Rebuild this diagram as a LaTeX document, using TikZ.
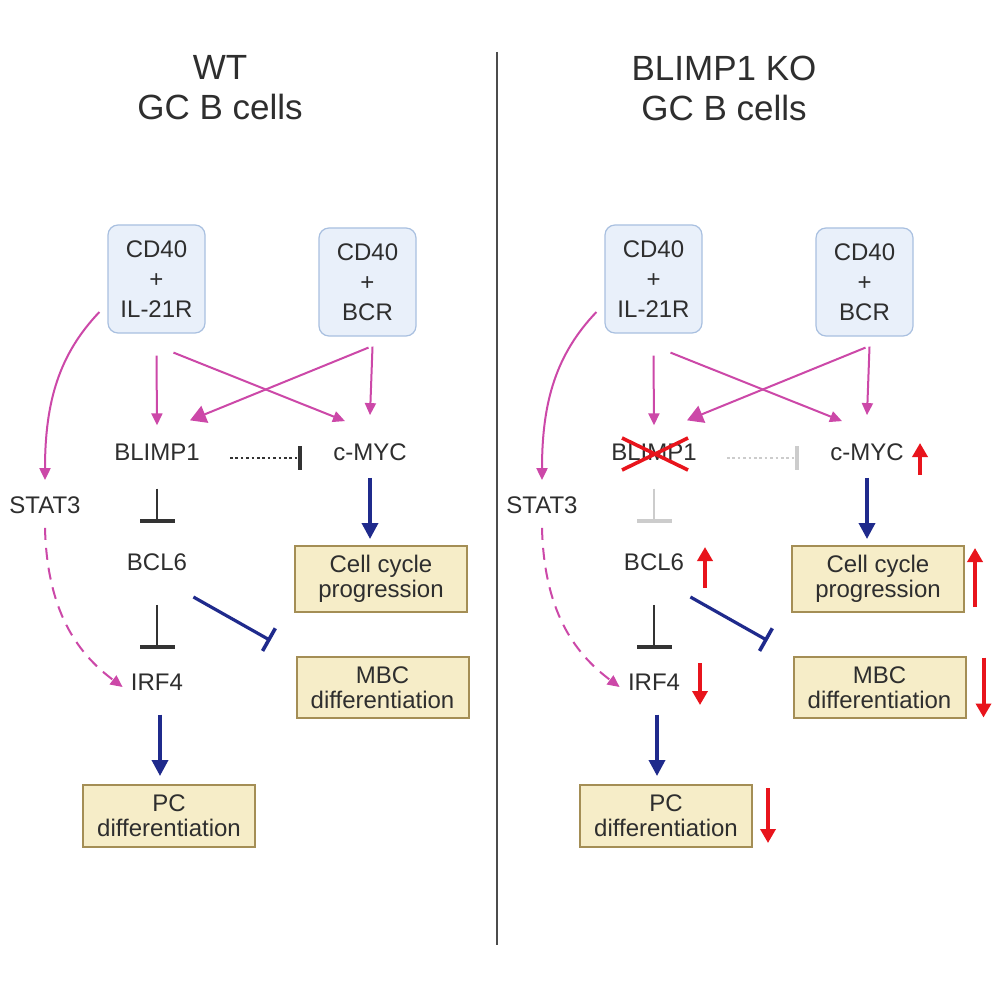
\documentclass[tikz,border=0pt]{standalone}
\usepackage{fontspec}
\setmainfont{Liberation Sans}
\usetikzlibrary{arrows.meta,calc}
\definecolor{pinkc}{HTML}{CC48A8}
\definecolor{bluec}{HTML}{1F2A8C}
\definecolor{redc}{HTML}{E8141C}
\definecolor{textc}{HTML}{2E2E2E}
\definecolor{bboxf}{HTML}{E9F0FA}
\definecolor{bboxd}{HTML}{A9C0E0}
\definecolor{tanf}{HTML}{F6EDC8}
\definecolor{tand}{HTML}{A48E55}
\definecolor{inhc}{HTML}{333333}
\definecolor{ghostc}{HTML}{CCCCCC}
\newcommand\drawpanel[3]{%
\begin{scope}[shift={(#2,0)}]
\node[bluebox] (#1b1) at (156.5,279) {CD40\\+\\IL-21R};
\node[bluebox] (#1b2) at (367.5,282) {CD40\\+\\BCR};
\node[txt] (#1blimp) at (157,452) {BLIMP1};
\node[txt] (#1myc) at (370,452) {c-MYC};
\node[txt] (#1stat) at (45,505) {STAT3};
\node[txt] (#1bcl) at (157,562) {BCL6};
\node[txt] (#1irf) at (157,682) {IRF4};
\node[tanbox] (#1cc) at (381,579) {Cell cycle\\progression};
\node[tanbox,minimum height=30.5pt] (#1mbc) at (382.5,687.5) {MBC\\differentiation};
\node[tanbox,minimum height=31pt] (#1pc) at (169,816) {PC\\differentiation};
% pink activations
\draw[pa] ($(#1b1.south)+(0,22)$) -- ($(#1blimp.north)+(0,-18)$);
\draw[pa] ($(#1b1.south)+(17,19)$) -- ($(#1myc.north)+(-25,-22)$);
\draw[pa] ($(#1b2.south)+(5,10)$) -- ($(#1myc.north)+(0,-28)$);
\draw[pink line,-{Triangle[length=8pt,width=9pt]}] ($(#1b2.south)+(1,11)$) -- ($(#1blimp.north)+(33,-23)$);
\draw[pa] ($(#1b1.west)+(-8,33)$) .. controls ($(#1b1.west)+(-48,75)$) and ($(#1stat.north)+(0,-95)$) .. ($(#1stat.north)+(0,-16)$);
\draw[pa,dashed,dash pattern=on 6pt off 4pt] ($(#1stat.south)+(0,14)$) .. controls ($(#1stat.south)+(2,95)$) and ($(#1irf.west)+(-55,-30)$) .. ($(#1irf.west)+(-8,5)$);
% inhibitions
\draw[#3,line width=1.3pt,dash pattern=on 1.3pt off 1.4pt,-{Bar[width=12pt,line width=2pt]}] ($(#1blimp.east)+(30,6)$) -- ($(#1myc.west)+(-31,6)$);
\draw[#3,inh] ($(#1blimp.south)+(0,28)$) -- ($(#1bcl.north)+(0,-30)$);
\draw[inhc,inh] ($(#1bcl.south)+(0,34)$) -- ($(#1irf.north)+(0,-24)$);
\draw[bluec,line width=1.6pt,-{Bar[width=13pt,line width=1.8pt]}] ($(#1bcl.east)+(6,35)$) -- ($(#1mbc.west)+(-25,-47)$);
% blue activations
\draw[ba] ($(#1myc.south)+(0,17)$) -- ($(#1cc.north)+(-11,-6)$);
\draw[ba] ($(#1irf.south)+(3,24)$) -- ($(#1pc.north)+(-9,-8)$);
\end{scope}}
\begin{document}
\begin{tikzpicture}[x=0.5pt,y=-0.5pt,
  txt/.style={font=\fontsize{12pt}{15pt}\selectfont,text=textc,inner sep=0pt},
  title/.style={font=\fontsize{17.5pt}{20pt}\selectfont,text=textc,align=center,inner sep=0pt},
  bluebox/.style={txt,draw=bboxd,fill=bboxf,line width=0.6pt,rounded corners=5pt,
    minimum width=48.5pt,minimum height=54pt,align=center},
  tanbox/.style={font=\fontsize{12pt}{12.5pt}\selectfont,text=textc,inner sep=0pt,draw=tand,fill=tanf,line width=1pt,
    minimum width=86pt,minimum height=33pt,align=center},
  pink line/.style={draw=pinkc,line width=1pt},
  pa/.style={pink line,-{Triangle[length=6pt,width=5.5pt]}},
  ba/.style={draw=bluec,line width=1.8pt,-{Triangle[length=8pt,width=8pt]}},
  inh/.style={line width=1.4pt,-{Bar[width=17.5pt,line width=2pt]}},
  ra/.style={draw=redc,line width=2pt,-{Triangle[length=7pt,width=7.5pt]}}]
\useasboundingbox[fill=white] (0,0) rectangle (1000,1000);
% titles
\node[title] (t1) at (220,88) {WT\\[0pt]GC B cells};
\node[title] (t2) at (724,88) {BLIMP1 KO\\[0pt]GC B cells};
% divider
\coordinate (d1) at (497,52);
\coordinate (d2) at (497,945);
\draw[draw=black!70,line width=0.7pt] (d1) -- (d2);
\drawpanel{L}{0}{inhc}
\drawpanel{R}{497}{ghostc}
% red X over BLIMP1 in KO
\draw[redc,line width=1.8pt] ($(Rblimp)+(-32,-14)$) -- ($(Rblimp)+(34,18)$);
\draw[redc,line width=1.8pt] ($(Rblimp)+(-32,18)$) -- ($(Rblimp)+(34,-14)$);
% red up/down arrows
\draw[ra] ($(Rmyc)+(53,23)$) -- ($(Rmyc)+(53,-9)$);
\draw[ra] ($(Rbcl)+(51,26)$) -- ($(Rbcl)+(51,-15)$);
\draw[ra] ($(Rcc.east)+(10,28)$) -- ($(Rcc.east)+(10,-31)$);
\draw[ra] ($(Rirf)+(46,-19)$) -- ($(Rirf)+(46,23)$);
\draw[ra] ($(Rmbc.east)+(17,-30)$) -- ($(Rmbc.east)+(17,30)$);
\draw[ra] ($(Rpc.east)+(15,-28)$) -- ($(Rpc.east)+(15,27)$);
\end{tikzpicture}
\end{document}
